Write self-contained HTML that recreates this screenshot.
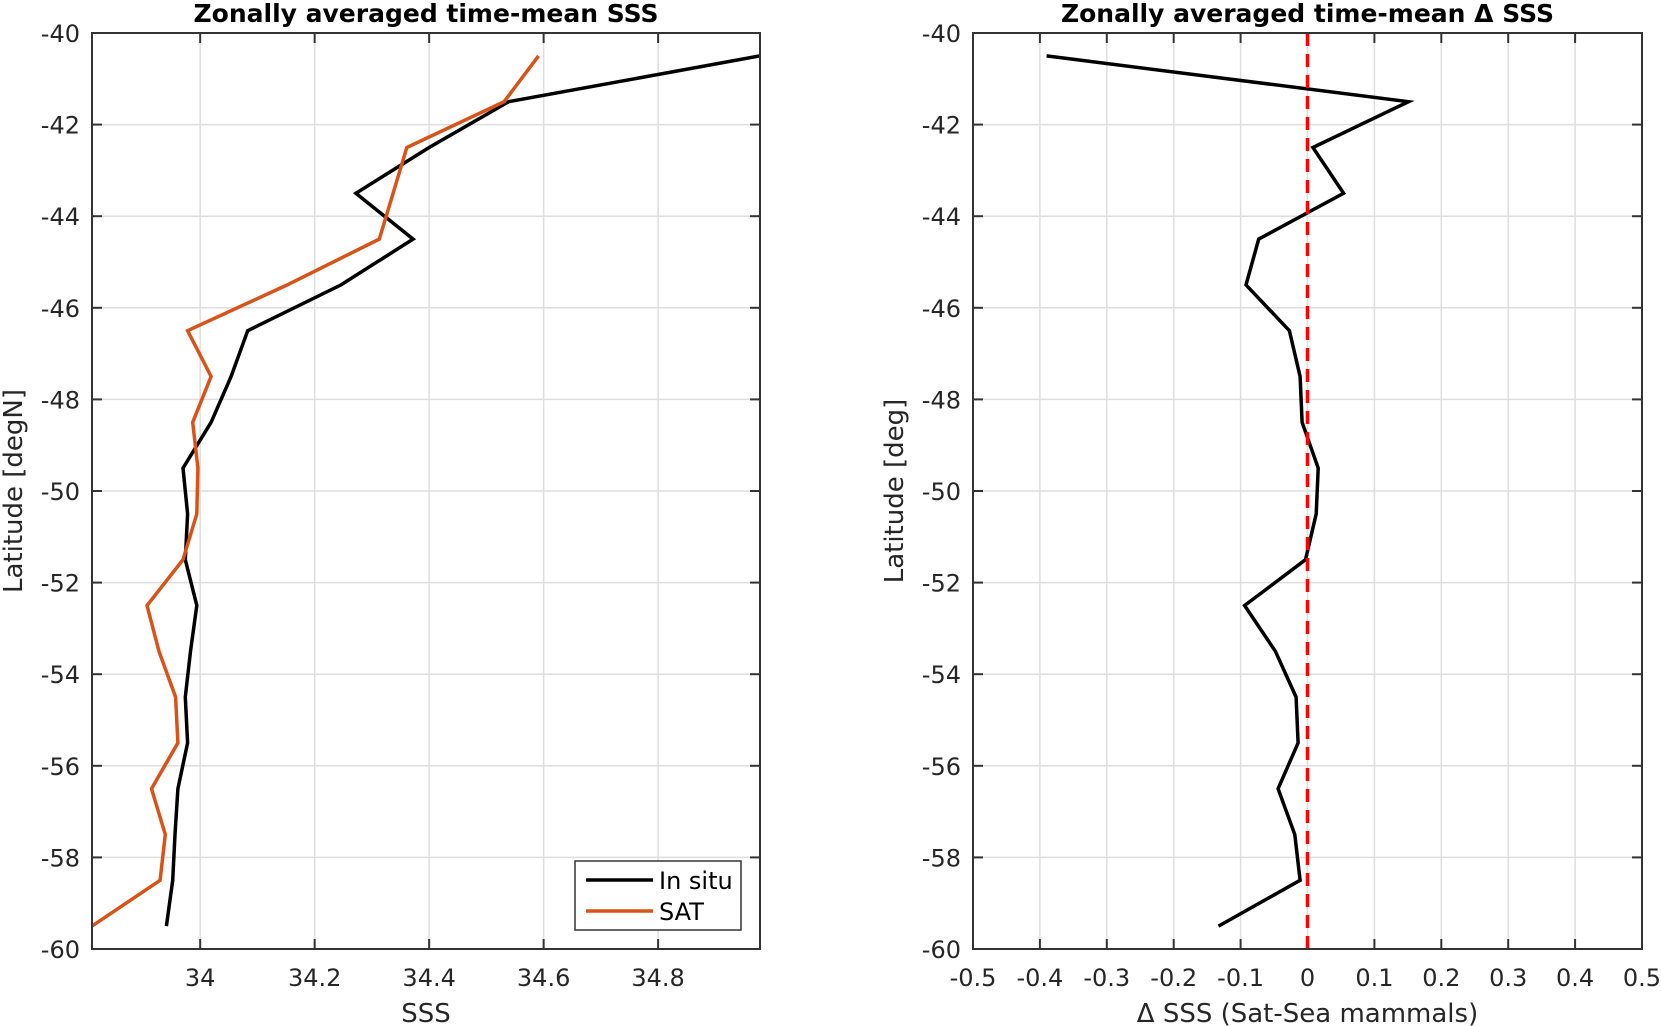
<!DOCTYPE html>
<html><head><meta charset="utf-8"><style>
html,body{margin:0;padding:0;background:#fff;}
svg{display:block;font-family:"DejaVu Sans","Liberation Sans",sans-serif;}
</style></head><body>
<svg id="chart" width="1661" height="1026" viewBox="0 0 1661 1026" xmlns="http://www.w3.org/2000/svg">
<g id="left"></g>
<g id="right"></g>
</svg>
<script>
const lats = [-40.5,-41.5,-42.5,-43.5,-44.5,-45.5,-46.5,-47.5,-48.5,-49.5,-50.5,-51.5,-52.5,-53.5,-54.5,-55.5,-56.5,-57.5,-58.5,-59.5];
const insitu = [34.978,34.539,34.400,34.272,34.372,34.246,34.083,34.054,34.019,33.970,33.978,33.974,33.994,33.983,33.974,33.978,33.961,33.956,33.952,33.941];
const sat = [34.591,34.531,34.361,34.337,34.313,34.152,33.978,34.019,33.987,33.996,33.994,33.970,33.907,33.928,33.957,33.961,33.915,33.939,33.930,33.811];
const delta = [-0.390,0.151,0.008,0.054,-0.073,-0.092,-0.027,-0.011,-0.008,0.016,0.013,-0.003,-0.094,-0.048,-0.017,-0.014,-0.044,-0.019,-0.011,-0.133];
const yTicks = [-40,-42,-44,-46,-48,-50,-52,-54,-56,-58,-60];
const xTicksL = [34,34.2,34.4,34.6,34.8];
const xTicksR = [-0.5,-0.4,-0.3,-0.2,-0.1,0,0.1,0.2,0.3,0.4,0.5];
const xTickLabelsR = ["-0.5","-0.4","-0.3","-0.2","-0.1","0","0.1","0.2","0.3","0.4","0.5"];

const NS="http://www.w3.org/2000/svg";
function mk(parent,tag,attrs,text){const e=document.createElementNS(NS,tag);for(const k in attrs)e.setAttribute(k,attrs[k]);if(text!==undefined)e.textContent=text;parent.appendChild(e);return e;}

function panel(g,box,xmin,xmax,xticks,xlabels,title,xlabel,ylabel,ylabelX){
  const X=v=>box.l+(v-xmin)/(xmax-xmin)*(box.r-box.l);
  const Y=v=>box.t+(-40-v)/20*(box.b-box.t);
  const grid=mk(g,'g',{});
  
  
  xticks.forEach((v,i)=>{
    const x=X(v);
    mk(grid,'line',{x1:x,x2:x,y1:box.t,y2:box.b,stroke:'#dedede','stroke-width':1.5});
    mk(grid,'line',{x1:x,x2:x,y1:box.b,y2:box.b-10,stroke:'#333','stroke-width':2});
    mk(grid,'line',{x1:x,x2:x,y1:box.t,y2:box.t+10,stroke:'#333','stroke-width':2});
    const t=mk(g,'text',{x:x,y:box.b+37,'text-anchor':'middle','font-size':24,fill:'#262626'},xlabels[i]);
    
    
  });
  yTicks.forEach(v=>{
    const y=Y(v);
    mk(grid,'line',{x1:box.l,x2:box.r,y1:y,y2:y,stroke:'#dedede','stroke-width':1.5});
    mk(grid,'line',{x1:box.l,x2:box.l+10,y1:y,y2:y,stroke:'#333','stroke-width':2});
    mk(grid,'line',{x1:box.r,x2:box.r-10,y1:y,y2:y,stroke:'#333','stroke-width':2});
    const t=mk(g,'text',{x:box.l-12,y:y+9,'text-anchor':'end','font-size':24,fill:'#262626'},String(v));
    
    
  });
  const tt=mk(g,'text',{x:(box.l+box.r)/2,y:22,'text-anchor':'middle','font-size':25,'font-weight':'bold',fill:'#000'},title);
  
  
  const xl=mk(g,'text',{x:(box.l+box.r)/2,y:1022,'text-anchor':'middle','font-size':26,fill:'#262626'},xlabel);
  
  
  const yl=mk(g,'text',{x:0,y:0,'text-anchor':'middle','font-size':26,fill:'#262626',transform:`translate(${ylabelX},${(box.t+box.b)/2}) rotate(-90)`},ylabel);
  
  
  return {X,Y};
}
function series(g,arr,X,Y,color,name){
  const pts=arr.map((v,i)=>X(v).toFixed(1)+','+Y(lats[i]).toFixed(1)).join(' ');
  const p=mk(g,'polyline',{points:pts,fill:'none',stroke:color,'stroke-width':3.5,'stroke-linejoin':'miter'});
  
  
}
function frame(g,box){
  const r=mk(g,'rect',{x:box.l,y:box.t,width:box.r-box.l,height:box.b-box.t,fill:'none',stroke:'#333','stroke-width':2});
  
  
}

// Left panel
const gl=document.getElementById('left');
const boxL={l:92,r:760,t:33,b:949};
const all=insitu.concat(sat);
const xminL=Math.min(...all), xmaxL=Math.max(...all);
const L=panel(gl,boxL,xminL,xmaxL,xTicksL,xTicksL.map(String),'Zonally averaged time-mean SSS','SSS','Latitude [degN]',22);
const clipL=mk(gl,'clipPath',{id:'cl'});mk(clipL,'rect',{x:boxL.l,y:boxL.t,width:boxL.r-boxL.l,height:boxL.b-boxL.t});
const sl=mk(gl,'g',{'clip-path':'url(#cl)'});
series(sl,insitu,L.X,L.Y,'#000','in-situ-line');
series(sl,sat,L.X,L.Y,'#d95319','sat-line');
frame(gl,boxL);
const leg=mk(gl,'g',{});


mk(leg,'rect',{x:575,y:861,width:166,height:69,fill:'#fff',stroke:'#333','stroke-width':1.5});
const le1=mk(leg,'g',{});


mk(le1,'line',{x1:586,x2:653,y1:880,y2:880,stroke:'#000','stroke-width':3.5});
mk(le1,'text',{x:659,y:889,'font-size':24,fill:'#000'},'In situ');
const le2=mk(leg,'g',{});


mk(le2,'line',{x1:586,x2:653,y1:911,y2:911,stroke:'#d95319','stroke-width':3.5});
mk(le2,'text',{x:659,y:920,'font-size':24,fill:'#000'},'SAT');

// Right panel
const gr=document.getElementById('right');
const boxR={l:973,r:1642,t:33,b:949};
const R=panel(gr,boxR,-0.5,0.5,xTicksR,xTickLabelsR,'Zonally averaged time-mean \u0394 SSS','\u0394 SSS (Sat-Sea mammals)','Latitude [deg]',903);
series(gr,delta,R.X,R.Y,'#000','delta-sss-line');
const z=mk(gr,'line',{x1:R.X(0),x2:R.X(0),y1:boxR.t,y2:boxR.b,stroke:'#ff0000','stroke-width':3.5,'stroke-dasharray':'13 8'});


frame(gr,boxR);
</script>
</body></html>
